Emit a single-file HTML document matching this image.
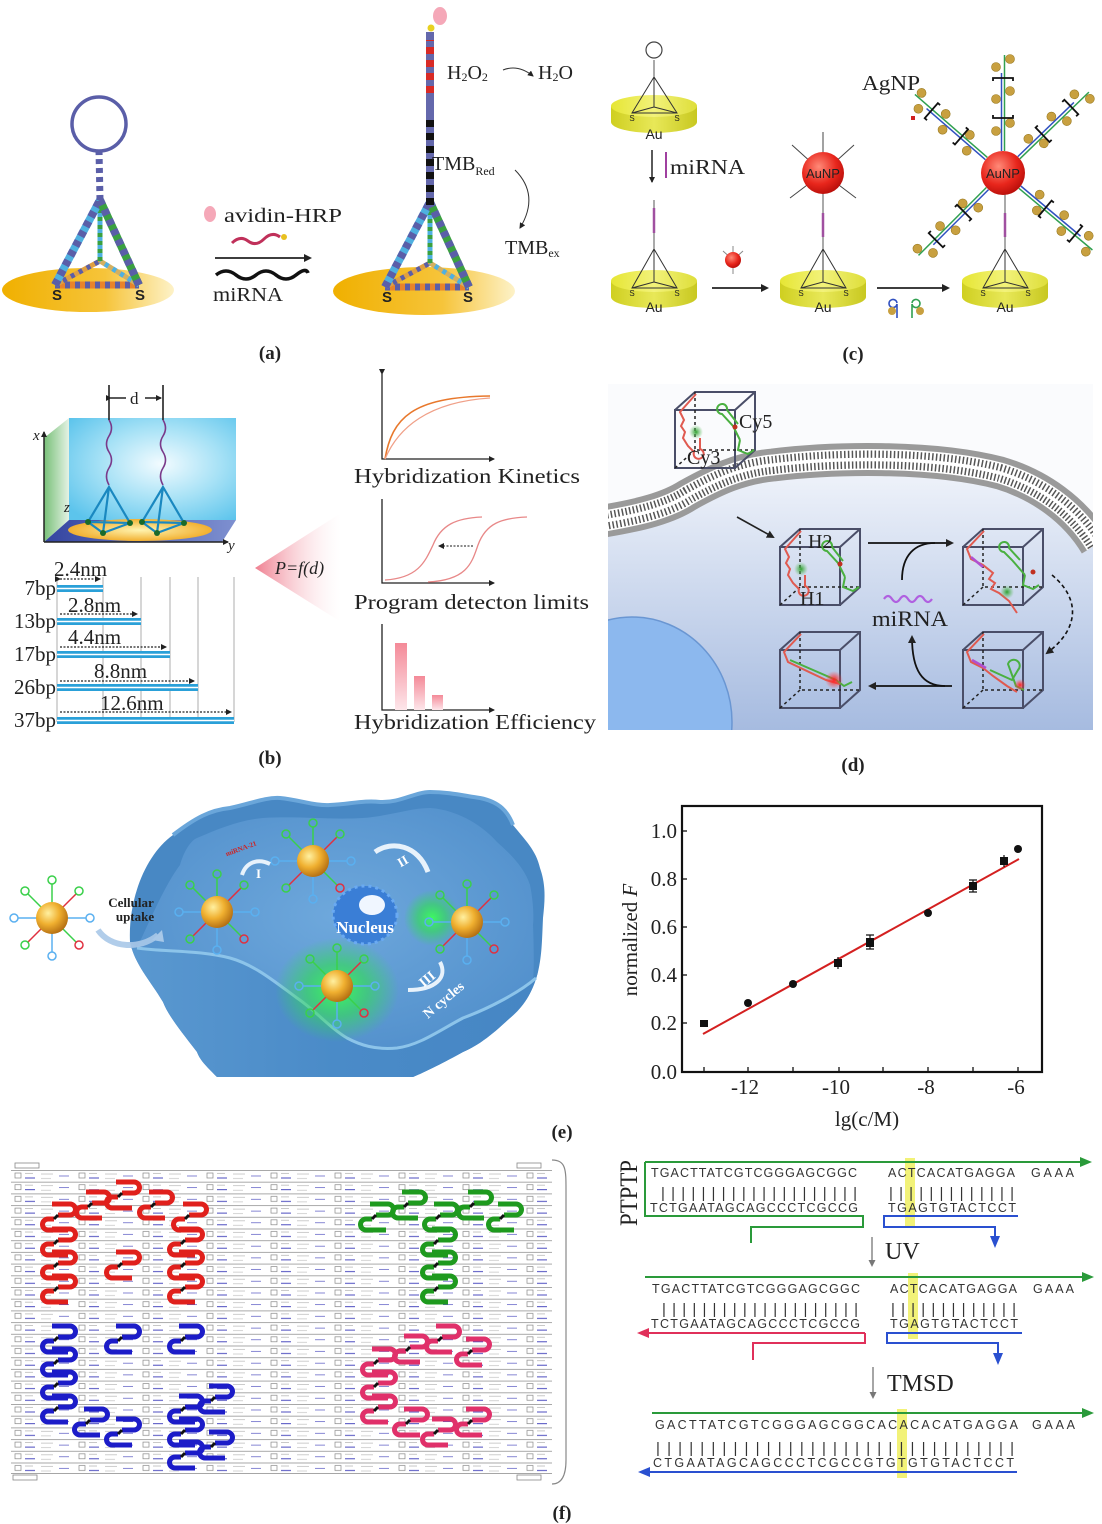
<!DOCTYPE html>
<html><head><meta charset="utf-8">
<style>
html,body{margin:0;padding:0;background:#fff;}
svg{display:block;}
text{font-family:"Liberation Serif",serif;fill:#222;}
.s{font-family:"Liberation Sans",sans-serif;}
.sq text{font-family:"Liberation Sans",sans-serif;fill:#333;}
</style></head><body>
<svg width="1102" height="1524" viewBox="0 0 1102 1524" xmlns="http://www.w3.org/2000/svg" xmlns:xlink="http://www.w3.org/1999/xlink">
<defs>
<linearGradient id="gold" x1="0" y1="0" x2="1" y2="0"><stop offset="0" stop-color="#f0b000"/><stop offset="0.6" stop-color="#f6c43a"/><stop offset="1" stop-color="#fdf2c8"/></linearGradient>
<linearGradient id="audisk" x1="0" y1="0" x2="1" y2="0"><stop offset="0" stop-color="#e6e634"/><stop offset="0.5" stop-color="#f2f27a"/><stop offset="1" stop-color="#dede3a"/></linearGradient>
<linearGradient id="auside" x1="0" y1="0" x2="1" y2="0"><stop offset="0" stop-color="#cfcf20"/><stop offset="0.5" stop-color="#e8e858"/><stop offset="1" stop-color="#c8c820"/></linearGradient>
<radialGradient id="aunp" cx="0.4" cy="0.35" r="0.7"><stop offset="0" stop-color="#ff8a78"/><stop offset="0.6" stop-color="#e8261c"/><stop offset="1" stop-color="#b40c08"/></radialGradient>
<radialGradient id="boxb" cx="0.55" cy="0.45" r="0.7"><stop offset="0" stop-color="#f2fbff"/><stop offset="0.5" stop-color="#a8e2f6"/><stop offset="1" stop-color="#5cc4ec"/></radialGradient>
<linearGradient id="wall" x1="0" y1="0" x2="1" y2="0"><stop offset="0" stop-color="#78c078"/><stop offset="1" stop-color="#e4f2e4"/></linearGradient>
<linearGradient id="floor" x1="0" y1="0" x2="1" y2="0"><stop offset="0" stop-color="#3444a0"/><stop offset="1" stop-color="#7e90d0"/></linearGradient>
<radialGradient id="ydisk" cx="0.5" cy="0.5" r="0.5"><stop offset="0" stop-color="#fff4b0"/><stop offset="1" stop-color="#f2b030"/></radialGradient>
<linearGradient id="tri" x1="0" y1="0" x2="1" y2="0"><stop offset="0" stop-color="#ef7f90"/><stop offset="1" stop-color="#ffffff" stop-opacity="0.2"/></linearGradient>
<linearGradient id="pbar" x1="0" y1="0" x2="0" y2="1"><stop offset="0" stop-color="#f48a98"/><stop offset="1" stop-color="#fde6ea"/></linearGradient>
<linearGradient id="cell" x1="0" y1="0" x2="0" y2="1"><stop offset="0" stop-color="#f2f5fb"/><stop offset="1" stop-color="#a6bbe0"/></linearGradient>
<radialGradient id="gnp" cx="0.38" cy="0.35" r="0.7"><stop offset="0" stop-color="#fff0a0"/><stop offset="0.5" stop-color="#f0b030"/><stop offset="1" stop-color="#b06a10"/></radialGradient>
<radialGradient id="glow" cx="0.5" cy="0.5" r="0.5"><stop offset="0" stop-color="#3cff5a" stop-opacity="0.95"/><stop offset="0.5" stop-color="#30e050" stop-opacity="0.6"/><stop offset="1" stop-color="#30e050" stop-opacity="0"/></radialGradient>
<radialGradient id="rglow" cx="0.5" cy="0.5" r="0.5"><stop offset="0" stop-color="#ff2020"/><stop offset="1" stop-color="#ff4040" stop-opacity="0"/></radialGradient>
<radialGradient id="gglow" cx="0.5" cy="0.5" r="0.5"><stop offset="0" stop-color="#30a030"/><stop offset="1" stop-color="#60c060" stop-opacity="0"/></radialGradient>
<radialGradient id="ecell" cx="0.5" cy="0.45" r="0.6"><stop offset="0" stop-color="#6ea8dc"/><stop offset="1" stop-color="#5290cc"/></radialGradient>
<linearGradient id="efront" x1="0" y1="0" x2="1" y2="0"><stop offset="0" stop-color="#5a98d0"/><stop offset="0.5" stop-color="#4a8bc8"/><stop offset="1" stop-color="#4686c4"/></linearGradient>
<marker id="ah" markerWidth="8" markerHeight="8" refX="6" refY="4" orient="auto" markerUnits="userSpaceOnUse"><path d="M0,0 L8,4 L0,8 z" fill="#222"/></marker>
<marker id="ahs" markerWidth="6" markerHeight="6" refX="5" refY="3" orient="auto" markerUnits="userSpaceOnUse"><path d="M0,0 L6,3 L0,6 z" fill="#222"/></marker>
<marker id="ahg" markerWidth="7" markerHeight="7" refX="5" refY="3.5" orient="auto" markerUnits="userSpaceOnUse"><path d="M0,0 L7,3.5 L0,7 z" fill="#777"/></marker>
<pattern id="gp" x="11" y="1170" width="64" height="11.7" patternUnits="userSpaceOnUse">
<line x1="0" y1="0.5" x2="64" y2="0.5" stroke="#8a8a8a" stroke-width="0.8"/>
<rect x="4" y="3" width="6" height="5" fill="#fff" stroke="#888" stroke-width="0.7"/>
<line x1="14" y1="8" x2="24" y2="8" stroke="#3838b8" stroke-width="0.9"/>
<line x1="14" y1="3.5" x2="22" y2="3.5" stroke="#b0b0b0" stroke-width="0.7"/>
<line x1="30" y1="4" x2="42" y2="4" stroke="#b8b8b8" stroke-width="0.7"/>
<line x1="30" y1="8.5" x2="40" y2="8.5" stroke="#c0c0c0" stroke-width="0.7"/>
<line x1="48" y1="6" x2="58" y2="6" stroke="#5050c0" stroke-width="0.7"/>
</pattern>
<g id="mot"><path d="M-8,-11 H10 A5.5,5.5 0 0 1 10,0 H-2" fill="none" stroke="currentColor" stroke-width="5"/><path d="M-6,4 H-12 A5.5,5.5 0 0 0 -12,15 H8" fill="none" stroke="currentColor" stroke-width="5"/><line x1="-2" y1="0" x2="-6" y2="4" stroke="#111" stroke-width="3"/></g>
<g id="np">
<g stroke-width="1.5" fill="none">
<line x1="0" y1="0" x2="0" y2="-34" stroke="#3ad04a"/><circle cx="0" cy="-38" r="4" stroke="#3ad04a"/>
<line x1="0" y1="0" x2="24" y2="-24" stroke="#e03040"/><circle cx="27" cy="-27" r="4" stroke="#3ad04a"/>
<line x1="0" y1="0" x2="34" y2="0" stroke="#5ab0f0"/><circle cx="38" cy="0" r="4" stroke="#5ab0f0"/>
<line x1="0" y1="0" x2="24" y2="24" stroke="#3ad04a"/><circle cx="27" cy="27" r="4" stroke="#e03040"/>
<line x1="0" y1="0" x2="0" y2="34" stroke="#5ab0f0"/><circle cx="0" cy="38" r="4" stroke="#5ab0f0"/>
<line x1="0" y1="0" x2="-24" y2="24" stroke="#e03040"/><circle cx="-27" cy="27" r="4" stroke="#3ad04a"/>
<line x1="0" y1="0" x2="-34" y2="0" stroke="#5ab0f0"/><circle cx="-38" cy="0" r="4" stroke="#5ab0f0"/>
<line x1="0" y1="0" x2="-24" y2="-24" stroke="#3ad04a"/><circle cx="-27" cy="-27" r="4" stroke="#3ad04a"/>
</g>
<circle cx="0" cy="0" r="16" fill="url(#gnp)"/>
</g>
<g id="cube">
<rect x="0" y="18" width="60" height="58" fill="none" stroke="#4a4e68" stroke-width="2"/>
<path d="M0,18 L20,0 H80 V58 L60,76 M60,18 L80,0" fill="none" stroke="#4a4e68" stroke-width="2"/>
<path d="M20,0 V58 H80 M20,58 L0,76" fill="none" stroke="#222" stroke-width="1.5" stroke-dasharray="3,3"/>
</g>
<g id="tet">
<line x1="0" y1="0" x2="84" y2="0" stroke="#e8842a" stroke-width="7"/>
<line x1="0" y1="0" x2="84" y2="0" stroke="#5a5ea8" stroke-width="7" stroke-dasharray="5,5"/>
<line x1="0" y1="0" x2="45" y2="-24" stroke="#e0a040" stroke-width="5"/>
<line x1="84" y1="0" x2="45" y2="-24" stroke="#d4b060" stroke-width="5"/>
<line x1="0" y1="0" x2="45" y2="-24" stroke="#5a5ea8" stroke-width="5" stroke-dasharray="4,5"/>
<line x1="84" y1="0" x2="45" y2="-24" stroke="#4fb0e0" stroke-width="5" stroke-dasharray="4,5"/>
<line x1="45" y1="-24" x2="45" y2="-85" stroke="#4fb0e0" stroke-width="5"/>
<line x1="45" y1="-24" x2="45" y2="-85" stroke="#3aa040" stroke-width="5" stroke-dasharray="4,4"/>
<line x1="0" y1="0" x2="45" y2="-85" stroke="#4fb0e0" stroke-width="8"/>
<line x1="0" y1="0" x2="45" y2="-85" stroke="#5a5ea8" stroke-width="8" stroke-dasharray="6,5"/>
<line x1="84" y1="0" x2="45" y2="-85" stroke="#3aa040" stroke-width="8"/>
<line x1="84" y1="0" x2="45" y2="-85" stroke="#5a5ea8" stroke-width="8" stroke-dasharray="6,5"/>
</g>
<g id="arm0">
<line x1="22" y1="-1.5" x2="100" y2="-1.5" stroke="#3050c0" stroke-width="1.5"/>
<line x1="22" y1="1.5" x2="118" y2="1.5" stroke="#30a050" stroke-width="1.5"/>
<g fill="#c8a040" stroke="#9a7a20" stroke-width="0.6"><circle cx="42" cy="-7" r="4.5"/><circle cx="50" cy="7" r="4.5"/><circle cx="74" cy="-7" r="4.5"/><circle cx="82" cy="7" r="4.5"/><circle cx="106" cy="-7" r="4.5"/><circle cx="114" cy="7" r="4.5"/></g>
<path d="M58,-10 h-3 v20 h3 M92,-10 h3 v20 h-3" fill="none" stroke="#111" stroke-width="1.8"/>
</g>
</defs>

<!-- ================= (a) ================= -->
<ellipse cx="88" cy="290" rx="86" ry="22" fill="url(#gold)"/>
<use xlink:href="#tet" x="55" y="285"/>
<text x="57" y="300" class="s" font-size="15" font-weight="bold" text-anchor="middle">S</text>
<text x="140" y="300" class="s" font-size="15" font-weight="bold" text-anchor="middle">S</text>
<line x1="100" y1="200" x2="99" y2="150" stroke="#5a5ea8" stroke-width="7" stroke-dasharray="5,4"/>
<circle cx="99" cy="124" r="27" fill="none" stroke="#5a5ea8" stroke-width="3.5"/>

<ellipse cx="424" cy="291" rx="91" ry="24" fill="url(#gold)"/>
<use xlink:href="#tet" x="385" y="287"/>
<text x="387" y="302" class="s" font-size="15" font-weight="bold" text-anchor="middle">S</text>
<text x="468" y="302" class="s" font-size="15" font-weight="bold" text-anchor="middle">S</text>
<line x1="430" y1="205" x2="430" y2="32" stroke="#6468ac" stroke-width="8"/>
<line x1="430" y1="205" x2="430" y2="120" stroke="#111" stroke-width="8" stroke-dasharray="7,6"/>
<line x1="430" y1="93" x2="430" y2="40" stroke="#d82a26" stroke-width="8" stroke-dasharray="7,6"/>
<circle cx="431" cy="28" r="3.5" fill="#e8d020"/>
<ellipse cx="440" cy="16" rx="7" ry="9" fill="#f5a8b8"/>
<text x="447" y="79" font-size="20">H<tspan font-size="12" dy="2">2</tspan><tspan dy="-2">O</tspan><tspan font-size="12" dy="2">2</tspan></text>
<path d="M503,70 Q518,64 533,76" fill="none" stroke="#333" stroke-width="1" marker-end="url(#ahs)"/>
<text x="538" y="79" font-size="20">H<tspan font-size="12" dy="2">2</tspan><tspan dy="-2">O</tspan></text>
<text x="432" y="170" font-size="20">TMB<tspan font-size="12" dy="5">Red</tspan></text>
<path d="M515,170 Q540,195 520,228" fill="none" stroke="#333" stroke-width="1" marker-end="url(#ahs)"/>
<text x="505" y="254" font-size="20">TMB<tspan font-size="12" dy="3">ex</tspan></text>

<ellipse cx="210" cy="214" rx="6" ry="8" fill="#f5a8b8"/>
<text x="224" y="222" font-size="20" textLength="118" lengthAdjust="spacingAndGlyphs">avidin-HRP</text>
<path d="M232,243 q8,-8 16,-2 t16,-2 t16,-2" fill="none" stroke="#c0305a" stroke-width="3"/>
<circle cx="284" cy="237" r="3" fill="#e8c020"/>
<line x1="215" y1="258" x2="310" y2="258" stroke="#222" stroke-width="1.8" marker-end="url(#ah)"/>
<path d="M216,275 q10,-8 20,0 t20,0 t20,0 t20,0 t12,-2" fill="none" stroke="#111" stroke-width="3.5"/>
<text x="213" y="301" font-size="20" textLength="70" lengthAdjust="spacingAndGlyphs">miRNA</text>
<text x="270" y="359" font-size="19" font-weight="bold" text-anchor="middle">(a)</text>

<!-- ================= (c) ================= -->
<g>
<path d="M611,106 V122 A43,11 0 0 0 697,122 V106 Z" fill="url(#auside)"/>
<ellipse cx="654" cy="106" rx="43" ry="11" fill="url(#audisk)"/>
<path d="M654,77 L632,113 L677,113 Z M654,77 L654,107 L632,113 M654,107 L677,113" fill="none" stroke="#333" stroke-width="1"/>
<line x1="654" y1="77" x2="654" y2="60" stroke="#555" stroke-width="1"/>
<circle cx="654" cy="50" r="8" fill="none" stroke="#444" stroke-width="1.2"/>
<text x="654" y="139" class="s" font-size="14" text-anchor="middle">Au</text>
<text x="632" y="121" class="s" font-size="8" text-anchor="middle">S</text>
<text x="677" y="121" class="s" font-size="8" text-anchor="middle">S</text>
</g>
<line x1="652" y1="150" x2="652" y2="182" stroke="#222" stroke-width="1.5" marker-end="url(#ahs)"/>
<line x1="666" y1="152" x2="666" y2="178" stroke="#a040a0" stroke-width="2"/>
<text x="670" y="174" font-size="21" textLength="75" lengthAdjust="spacingAndGlyphs">miRNA</text>

<g id="cdisk">
<path d="M611,281 V297 A43,11 0 0 0 697,297 V281 Z" fill="url(#auside)"/>
<ellipse cx="654" cy="281" rx="43" ry="11" fill="url(#audisk)"/>
<path d="M654,249 L632,288 L677,288 Z M654,249 L654,282 L632,288 M654,282 L677,288" fill="none" stroke="#333" stroke-width="1"/>
<text x="654" y="312" class="s" font-size="14" text-anchor="middle">Au</text>
<text x="632" y="296" class="s" font-size="8" text-anchor="middle">S</text>
<text x="677" y="296" class="s" font-size="8" text-anchor="middle">S</text>
</g>
<use xlink:href="#cdisk" x="169" y="0"/>
<use xlink:href="#cdisk" x="351" y="0"/>
<line x1="654" y1="249" x2="654" y2="200" stroke="#555" stroke-width="1"/>
<line x1="654" y1="208" x2="654" y2="233" stroke="#a050a0" stroke-width="2.5"/>
<line x1="823" y1="249" x2="823" y2="190" stroke="#555" stroke-width="1"/>
<line x1="823" y1="213" x2="823" y2="237" stroke="#a050a0" stroke-width="2.5"/>
<line x1="1005" y1="249" x2="1005" y2="190" stroke="#555" stroke-width="1"/>
<line x1="1005" y1="213" x2="1005" y2="237" stroke="#a050a0" stroke-width="2.5"/>
<g stroke="#444" stroke-width="1"><line x1="823" y1="173" x2="823" y2="132"/><line x1="823" y1="173" x2="792" y2="145"/><line x1="823" y1="173" x2="854" y2="145"/><line x1="823" y1="173" x2="790" y2="198"/><line x1="823" y1="173" x2="856" y2="198"/></g>
<circle cx="823" cy="173" r="21" fill="url(#aunp)"/>
<text x="823" y="178" class="s" font-size="13" text-anchor="middle" fill="#222">AuNP</text>
<g stroke="#888" stroke-width="1"><line x1="733" y1="260" x2="733" y2="246"/><line x1="733" y1="260" x2="723" y2="251"/><line x1="733" y1="260" x2="743" y2="251"/><line x1="733" y1="260" x2="733" y2="274"/></g>
<circle cx="733" cy="260" r="8" fill="url(#aunp)"/>
<line x1="712" y1="288" x2="767" y2="288" stroke="#222" stroke-width="1.8" marker-end="url(#ah)"/>
<line x1="877" y1="288" x2="948" y2="288" stroke="#222" stroke-width="1.8" marker-end="url(#ah)"/>
<path d="M897,318 V304 a4,4 0 1 1 0,-1" fill="none" stroke="#3050c0" stroke-width="1.6"/>
<circle cx="892" cy="311" r="4" fill="#c8a040"/>
<path d="M912,318 V304 a4,4 0 1 0 0,-1" fill="none" stroke="#30a050" stroke-width="1.6"/>
<circle cx="920" cy="311" r="4" fill="#c8a040"/>
<text x="862" y="90" font-size="21" textLength="58" lengthAdjust="spacingAndGlyphs">AgNP</text>
<rect x="911" y="116" width="4" height="4" fill="#d02020"/>
<g transform="translate(1003,173) rotate(-90)"><use xlink:href="#arm0"/></g>
<g transform="translate(1003,173) rotate(-139)"><use xlink:href="#arm0"/></g>
<g transform="translate(1003,173) rotate(-44)"><use xlink:href="#arm0"/></g>
<g transform="translate(1003,173) rotate(135)"><use xlink:href="#arm0"/></g>
<g transform="translate(1003,173) rotate(40)"><use xlink:href="#arm0"/></g>
<circle cx="1003" cy="173" r="22" fill="url(#aunp)"/>
<text x="1003" y="178" class="s" font-size="13" text-anchor="middle" fill="#222">AuNP</text>
<text x="853" y="360" font-size="19" font-weight="bold" text-anchor="middle">(c)</text>

<!-- ================= (b) ================= -->
<rect x="69" y="418" width="167" height="102" fill="url(#boxb)"/>
<polygon points="44,438 69,418 69,520 44,542" fill="url(#wall)"/>
<polygon points="44,542 69,520 236,520 222,542" fill="url(#floor)"/>
<ellipse cx="140" cy="530" rx="72" ry="11" fill="url(#ydisk)"/>
<line x1="44" y1="542" x2="44" y2="432" stroke="#222" stroke-width="1.5" marker-end="url(#ahs)"/>
<line x1="44" y1="542" x2="228" y2="542" stroke="#222" stroke-width="1.5" marker-end="url(#ahs)"/>
<text x="33" y="440" font-size="15" font-style="italic">x</text>
<text x="64" y="512" font-size="15" font-style="italic">z</text>
<text x="228" y="550" font-size="15" font-style="italic">y</text>
<line x1="109" y1="385" x2="109" y2="420" stroke="#222" stroke-width="1.6"/>
<line x1="163" y1="385" x2="163" y2="420" stroke="#222" stroke-width="1.6"/>
<path d="M109,420 q5,8 0,16 t0,16 t0,16 t0,17" fill="none" stroke="#7a3a8a" stroke-width="1.6"/>
<path d="M163,420 q5,8 0,16 t0,16 t0,16 t0,17" fill="none" stroke="#7a3a8a" stroke-width="1.6"/>
<line x1="111" y1="398" x2="126" y2="398" stroke="#222" stroke-width="1.5" marker-start="url(#ahs)"/>
<line x1="145" y1="398" x2="161" y2="398" stroke="#222" stroke-width="1.5" marker-end="url(#ahs)"/>
<text x="130" y="404" font-size="17">d</text>
<g fill="none" stroke="#1a88c0" stroke-width="2.2">
<path d="M109,487 L88,522 L130,523 Z M109,487 L103,533 L88,522 M103,533 L130,523"/>
<path d="M163,487 L142,522 L184,523 Z M163,487 L157,533 L142,522 M157,533 L184,523"/>
</g>
<g fill="#1a6a2a"><circle cx="88" cy="522" r="3"/><circle cx="130" cy="523" r="3"/><circle cx="103" cy="533" r="3"/><circle cx="142" cy="522" r="3"/><circle cx="184" cy="523" r="3"/><circle cx="157" cy="533" r="3"/></g>

<g stroke="#999" stroke-width="0.8"><line x1="57" y1="577" x2="57" y2="722"/><line x1="103" y1="577" x2="103" y2="722"/><line x1="141" y1="577" x2="141" y2="722"/><line x1="170" y1="577" x2="170" y2="722"/><line x1="198" y1="577" x2="198" y2="722"/><line x1="234" y1="577" x2="234" y2="722"/></g>
<g fill="#2aa0d8">
<rect x="57" y="585" width="46" height="7"/><rect x="57" y="618" width="84" height="7"/><rect x="57" y="651" width="113" height="7"/><rect x="57" y="684" width="141" height="7"/><rect x="57" y="717" width="177" height="7"/>
</g>
<g stroke="#fff" stroke-width="1.5"><line x1="57" y1="588.5" x2="103" y2="588.5"/><line x1="57" y1="621.5" x2="141" y2="621.5"/><line x1="57" y1="654.5" x2="170" y2="654.5"/><line x1="57" y1="687.5" x2="198" y2="687.5"/><line x1="57" y1="720.5" x2="234" y2="720.5"/></g>
<g stroke="#222" stroke-width="1.3" stroke-dasharray="2,1.5">
<line x1="60" y1="579" x2="100" y2="579" marker-end="url(#ahs)" marker-start="url(#ahs)"/>
<line x1="60" y1="614" x2="137" y2="614" marker-end="url(#ahs)"/>
<line x1="60" y1="647" x2="166" y2="647" marker-end="url(#ahs)"/>
<line x1="60" y1="681" x2="194" y2="681" marker-end="url(#ahs)"/>
<line x1="60" y1="712" x2="231" y2="712" marker-end="url(#ahs)"/>
</g>
<g font-size="21">
<text x="54" y="576">2.4nm</text><text x="68" y="612">2.8nm</text><text x="68" y="644">4.4nm</text><text x="94" y="678">8.8nm</text><text x="100" y="710">12.6nm</text>
</g>
<g font-size="21" text-anchor="end">
<text x="56" y="595">7bp</text><text x="56" y="628">13bp</text><text x="56" y="661">17bp</text><text x="56" y="694">26bp</text><text x="56" y="727">37bp</text>
</g>
<polygon points="255,568 341,513 341,622" fill="url(#tri)"/>
<text x="275" y="574" font-size="18" font-style="italic">P=f(d)</text>

<g stroke="#222" stroke-width="1.3" fill="none">
<path d="M382,374 V459 H494" marker-start="url(#ahs)" marker-end="url(#ahs)"/>
<path d="M382,499 V583 H494" marker-end="url(#ahs)"/>
<path d="M382,624 V710 H494" marker-end="url(#ahs)"/>
</g>
<path d="M385,459 C392,418 412,397 490,396" fill="none" stroke="#e8782c" stroke-width="1.6"/>
<path d="M385,459 C398,428 428,402 490,398" fill="none" stroke="#f0a088" stroke-width="1.3"/>
<path d="M385,580 C418,578 425,562 433,545 C441,525 456,518 482,517" fill="none" stroke="#e88888" stroke-width="1.3"/>
<path d="M428,582 C468,580 472,562 478,545 C486,523 502,518 527,517" fill="none" stroke="#e88888" stroke-width="1.3"/>
<line x1="473" y1="546" x2="439" y2="546" stroke="#444" stroke-width="1.2" stroke-dasharray="2,1.5" marker-end="url(#ahs)"/>
<rect x="395" y="643" width="12" height="67" fill="url(#pbar)"/>
<rect x="414" y="676" width="11" height="34" fill="url(#pbar)"/>
<rect x="432" y="695" width="11" height="15" fill="url(#pbar)"/>
<text x="354" y="483" font-size="21" textLength="226" lengthAdjust="spacingAndGlyphs">Hybridization Kinetics</text>
<text x="354" y="609" font-size="21" textLength="235" lengthAdjust="spacingAndGlyphs">Program detecton limits</text>
<text x="354" y="729" font-size="21" textLength="242" lengthAdjust="spacingAndGlyphs">Hybridization Efficiency</text>
<text x="270" y="764" font-size="19" font-weight="bold" text-anchor="middle">(b)</text>

<!-- ================= (d) ================= -->
<rect x="608" y="384" width="485" height="346" fill="#fafbfd"/>
<path d="M608,520 C640,515 668,508 688,495 C715,480 740,468 773,465 C830,458 930,455 1000,473 C1040,485 1075,510 1093,540 L1093,730 L608,730 Z" fill="url(#cell)"/>
<clipPath id="dclip"><rect x="608" y="384" width="485" height="346"/></clipPath>
<g clip-path="url(#dclip)">
<ellipse cx="632" cy="722" rx="100" ry="105" fill="#8cb8ee" stroke="#6a96d2" stroke-width="1.5"/>
<g fill="none">
<path d="M604,521 C640,515 668,508 688,495 C715,480 740,468 773,465 C830,458 930,455 1000,473 C1040,485 1075,510 1096,545" stroke="#9a9a9a" stroke-width="33"/>
<path d="M604,521 C640,515 668,508 688,495 C715,480 740,468 773,465 C830,458 930,455 1000,473 C1040,485 1075,510 1096,545" stroke="#fff" stroke-width="21"/>
<path d="M604,521 C640,515 668,508 688,495 C715,480 740,468 773,465 C830,458 930,455 1000,473 C1040,485 1075,510 1096,545" stroke="#555" stroke-width="18" stroke-dasharray="1.5,2.3"/>
<path d="M604,521 C640,515 668,508 688,495 C715,480 740,468 773,465 C830,458 930,455 1000,473 C1040,485 1075,510 1096,545" stroke="#fff" stroke-width="3.5"/>
</g>
</g>
<g id="cubeA">
<use xlink:href="#cube" x="675" y="392"/>
<path d="M696,394 L680,412 L684,420 l-3,6 l4,6 l-2,6 l5,8 l6,6 a5,5 0 1 0 6,-3 L700,438" fill="none" stroke="#e05a50" stroke-width="2"/>
<circle cx="696" cy="432" r="7" fill="url(#gglow)"/>
<path d="M740,440 L733,426 L722,414 a5,5 0 1 1 5,-4 L738,424" fill="none" stroke="#4ab040" stroke-width="2"/>
<path d="M740,440 l-2,10 l10,4 l6,-4" fill="none" stroke="#4ab040" stroke-width="2"/>
<circle cx="735" cy="427" r="2.5" fill="#c03020"/>
</g>
<text x="739" y="428" font-size="20">Cy5</text>
<text x="687" y="464" font-size="20">Cy3</text>
<line x1="737" y1="517" x2="773" y2="537" stroke="#222" stroke-width="1.6" marker-end="url(#ah)"/>
<use xlink:href="#cubeA" x="105" y="137"/>
<text x="808" y="548" font-size="20">H2</text>
<text x="800" y="605" font-size="20">H1</text>
<use xlink:href="#cube" x="963" y="529"/>
<path d="M984,531 L967,549 l4,10 l12,6 l10,8 l-4,6 l6,4 l-4,6 l8,4 l10,8 l8,12" fill="none" stroke="#e05a50" stroke-width="2"/>
<path d="M971,557 l12,10" stroke="#b050d0" stroke-width="2.5"/>
<circle cx="1007" cy="592" r="7" fill="url(#gglow)"/>
<path d="M1025,575 L1012,560 L1004,552 a5,5 0 1 1 5,-4 L1020,560" fill="none" stroke="#4ab040" stroke-width="2"/>
<path d="M1025,575 l-2,10 l10,4 l6,-4" fill="none" stroke="#4ab040" stroke-width="2"/>
<circle cx="1033" cy="572" r="2.5" fill="#c03020"/>
<use xlink:href="#cube" x="780" y="632"/>
<path d="M801,634 L784,652 l4,10 L826,680 L840,684" fill="none" stroke="#e05a50" stroke-width="2"/>
<path d="M790,660 L836,680 l8,6 l8,-4" fill="none" stroke="#4ab040" stroke-width="2"/>
<circle cx="834" cy="680" r="9" fill="url(#rglow)"/>
<use xlink:href="#cube" x="963" y="632"/>
<path d="M984,634 L967,652 l4,10 l12,6 l10,8 l14,10 l10,6" fill="none" stroke="#e05a50" stroke-width="2"/>
<path d="M972,660 l14,8" stroke="#b050d0" stroke-width="2.5"/>
<path d="M990,670 L1012,680 l6,-10 a6,6 0 1 0 -10,-6 L1016,686 l8,4" fill="none" stroke="#4ab040" stroke-width="2"/>
<circle cx="1020" cy="685" r="6" fill="url(#rglow)"/>
<line x1="868" y1="543" x2="952" y2="543" stroke="#111" stroke-width="1.8" marker-end="url(#ah)"/>
<path d="M902,580 C902,555 915,543 935,543" fill="none" stroke="#111" stroke-width="1.8"/>
<line x1="952" y1="686" x2="870" y2="686" stroke="#111" stroke-width="1.8" marker-end="url(#ah)"/>
<path d="M945,686 C922,686 912,670 912,637" fill="none" stroke="#111" stroke-width="1.8" marker-end="url(#ah)"/>
<path d="M1052,575 C1082,600 1078,630 1047,653" fill="none" stroke="#111" stroke-width="1.6" stroke-dasharray="4,3" marker-end="url(#ah)"/>
<path d="M884,599 q4,-6 8,0 t8,0 t8,0 t8,0 t8,0 t8,0" fill="none" stroke="#b060e0" stroke-width="2.2"/>
<text x="872" y="626" font-size="22" textLength="76" lengthAdjust="spacingAndGlyphs">miRNA</text>
<text x="853" y="771" font-size="19" font-weight="bold" text-anchor="middle">(d)</text>

<!-- ================= (e) ================= -->
<path d="M130,942 C128,900 145,855 173,835 C195,818 210,810 230,808 C250,804 265,797 280,798 C300,800 315,806 330,805 C350,804 365,800 380,802 C400,803 415,792 430,792 C450,792 465,796 480,798 C500,802 508,812 513,825 C525,840 536,850 540,868 C546,885 545,900 543,918 C542,940 542,955 538,972 C532,995 522,1008 510,1018 C495,1032 480,1045 463,1052 C445,1062 425,1072 413,1077 L217,1077 C205,1065 200,1060 197,1052 C180,1030 168,1015 163,1002 C150,980 135,965 130,942 Z" fill="#4888c4"/>
<path d="M180,865 C185,848 192,840 197,838 C220,828 240,820 263,818 C300,816 330,820 363,818 C390,816 410,808 430,808 C460,810 485,828 497,842 C515,858 525,870 530,885 C533,900 534,915 533,925 C534,950 534,970 533,982 C520,992 490,1008 463,1018 C440,1030 420,1045 397,1048 C375,1050 360,1045 347,1038 C330,1028 315,1010 297,998 C275,982 255,965 230,958 C200,950 165,952 137,948 C150,920 165,885 180,865 Z" fill="url(#ecell)"/>
<path d="M173,835 C195,818 210,810 230,808 C250,804 265,797 280,798 C300,800 315,806 330,805 C350,804 365,800 380,802 C400,803 415,792 430,792 C450,792 465,796 480,798 C500,802 508,812 513,825" fill="none" stroke="#6aa6da" stroke-width="4"/>
<path d="M137,948 C165,952 200,950 230,958 C255,965 275,982 297,998 C315,1010 330,1028 347,1038 C360,1045 375,1050 397,1048 C420,1045 440,1030 463,1018 C490,1008 520,992 533,982 L538,972 C532,995 522,1008 510,1018 C495,1032 480,1045 463,1052 C445,1062 425,1072 413,1077 L217,1077 C205,1065 200,1060 197,1052 C180,1030 168,1015 163,1002 C150,980 135,965 130,942 Z" fill="url(#efront)"/>
<path d="M137,948 C165,952 200,950 230,958 C255,965 275,982 297,998 C315,1010 330,1028 347,1038 C360,1045 375,1050 397,1048 C420,1045 440,1030 463,1018 C490,1008 520,992 536,978" fill="none" stroke="#8cc4ea" stroke-width="3"/>
<ellipse cx="337" cy="990" rx="62" ry="52" fill="url(#glow)"/>
<circle cx="432" cy="918" r="28" fill="url(#glow)"/>
<ellipse cx="365" cy="915" rx="32" ry="29" fill="#3a7ed6"/>
<ellipse cx="365" cy="915" rx="32" ry="29" fill="none" stroke="#6aaaf2" stroke-width="3" stroke-dasharray="3,4"/>
<ellipse cx="372" cy="905" rx="13" ry="10" fill="#f0f6ff"/>
<text x="365" y="933" font-size="17" font-weight="bold" text-anchor="middle" style="fill:#fff">Nucleus</text>
<use xlink:href="#np" x="52" y="918"/>
<use xlink:href="#np" x="217" y="912"/>
<use xlink:href="#np" x="313" y="861"/>
<use xlink:href="#np" x="467" y="922"/>
<use xlink:href="#np" x="337" y="986"/>
<path d="M98,930 C110,948 140,950 158,935" fill="none" stroke="#a8c8e8" stroke-width="6" opacity="0.9"/>
<path d="M152,940 l10,-10 l2,12 z" fill="#a8c8e8"/>
<text x="131" y="907" font-size="13" font-weight="bold" text-anchor="middle">Cellular</text>
<text x="135" y="921" font-size="13" font-weight="bold" text-anchor="middle">uptake</text>
<path d="M242,875 C246,862 258,858 270,864" fill="none" stroke="#e8f2fb" stroke-width="4"/>
<path d="M375,852 C392,840 418,845 428,872" fill="none" stroke="#e8f2fb" stroke-width="5"/>
<path d="M440,962 C448,977 436,990 408,990" fill="none" stroke="#e8f2fb" stroke-width="4"/>
<text x="256" y="878" font-size="13" font-weight="bold" style="fill:#fff">I</text>
<text x="398" y="866" font-size="13" font-weight="bold" style="fill:#fff" transform="rotate(-30 402 862)">II</text>
<text x="418" y="984" font-size="14" font-weight="bold" style="fill:#fff" transform="rotate(-40 426 978)">III</text>
<text x="418" y="1008" font-size="14" font-weight="bold" style="fill:#fff" transform="rotate(-40 438 1000)">N cycles</text>
<text x="225" y="853" font-size="7" font-weight="bold" style="fill:#d02020" transform="rotate(-20 235 850)">miRNA-21</text>
<text x="562" y="1138" font-size="19" font-weight="bold" text-anchor="middle">(e)</text>

<!-- ============ chart ============ -->
<rect x="682" y="806" width="360" height="266" fill="none" stroke="#111" stroke-width="2.2"/>
<g stroke="#111" stroke-width="1.3">
<line x1="682" y1="831" x2="687" y2="831"/><line x1="682" y1="879" x2="687" y2="879"/><line x1="682" y1="927" x2="687" y2="927"/><line x1="682" y1="975" x2="687" y2="975"/><line x1="682" y1="1023" x2="687" y2="1023"/>
<line x1="704" y1="1072" x2="704" y2="1067"/><line x1="748" y1="1072" x2="748" y2="1067"/><line x1="793" y1="1072" x2="793" y2="1067"/><line x1="839" y1="1072" x2="839" y2="1067"/><line x1="883" y1="1072" x2="883" y2="1067"/><line x1="928" y1="1072" x2="928" y2="1067"/><line x1="973" y1="1072" x2="973" y2="1067"/><line x1="1018" y1="1072" x2="1018" y2="1067"/>
</g>
<g font-size="21" text-anchor="end">
<text x="677" y="838">1.0</text><text x="677" y="886">0.8</text><text x="677" y="934">0.6</text><text x="677" y="982">0.4</text><text x="677" y="1030">0.2</text><text x="677" y="1079">0.0</text>
</g>
<g font-size="21" text-anchor="middle">
<text x="745" y="1094">-12</text><text x="836" y="1094">-10</text><text x="926" y="1094">-8</text><text x="1016" y="1094">-6</text>
</g>
<text x="867" y="1126" font-size="21" text-anchor="middle">lg(c/M)</text>
<text transform="translate(637,940) rotate(-90)" font-size="21" text-anchor="middle">normalized <tspan font-style="italic">F</tspan></text>
<line x1="703" y1="1034" x2="1019" y2="859" stroke="#d42020" stroke-width="2"/>
<g fill="#111">
<rect x="700" y="1020" width="8" height="7"/><circle cx="748" cy="1003" r="4"/><circle cx="793" cy="984" r="4"/><rect x="834" y="959" width="8" height="8"/><rect x="866" y="938" width="8" height="9"/><circle cx="928" cy="913" r="4"/><rect x="969" y="882" width="8" height="8"/><rect x="1000" y="857" width="8" height="8"/><circle cx="1018" cy="849" r="4"/>
</g>
<g stroke="#111" stroke-width="1.2"><path d="M870,935 v14 M866,935 h8 M866,949 h8 M973,880 v12 M969,880 h8 M969,892 h8 M1004,855 v12 M838,957 v12"/></g>

<!-- ================= (f) left ================= -->
<rect x="11" y="1170" width="541" height="304" fill="url(#gp)"/>
<line x1="11" y1="1473.5" x2="552" y2="1473.5" stroke="#888" stroke-width="0.8"/>
<path d="M552,1160 C566,1160 566,1170 566,1190 V1460 C566,1478 560,1484 552,1484" fill="none" stroke="#888" stroke-width="1.2"/>
<g fill="none" stroke="#888" stroke-width="0.8"><rect x="15" y="1163" width="24" height="5"/><rect x="517" y="1163" width="24" height="5"/><rect x="13" y="1475" width="24" height="5"/><rect x="517" y="1475" width="24" height="5"/></g>
<g style="color:#e0201c">
<use xlink:href="#mot" x="124" y="1193"/><use xlink:href="#mot" x="157" y="1203"/><use xlink:href="#mot" x="94" y="1203"/><use xlink:href="#mot" x="60" y="1215"/><use xlink:href="#mot" x="191" y="1215"/><use xlink:href="#mot" x="60" y="1240"/><use xlink:href="#mot" x="187" y="1240"/><use xlink:href="#mot" x="60" y="1263"/><use xlink:href="#mot" x="124" y="1263"/><use xlink:href="#mot" x="187" y="1263"/><use xlink:href="#mot" x="60" y="1287"/><use xlink:href="#mot" x="187" y="1287"/>
</g>
<g style="color:#1e9a1e">
<use xlink:href="#mot" x="410" y="1203"/><use xlink:href="#mot" x="476" y="1203"/><use xlink:href="#mot" x="378" y="1215"/><use xlink:href="#mot" x="442" y="1215"/><use xlink:href="#mot" x="506" y="1215"/><use xlink:href="#mot" x="440" y="1240"/><use xlink:href="#mot" x="440" y="1263"/><use xlink:href="#mot" x="440" y="1287"/>
</g>
<g style="color:#1c1cc8">
<use xlink:href="#mot" x="60" y="1337"/><use xlink:href="#mot" x="124" y="1337"/><use xlink:href="#mot" x="187" y="1337"/><use xlink:href="#mot" x="60" y="1360"/><use xlink:href="#mot" x="60" y="1383"/><use xlink:href="#mot" x="60" y="1407"/><use xlink:href="#mot" x="187" y="1407"/><use xlink:href="#mot" x="217" y="1397"/><use xlink:href="#mot" x="92" y="1420"/><use xlink:href="#mot" x="124" y="1430"/><use xlink:href="#mot" x="187" y="1430"/><use xlink:href="#mot" x="217" y="1443"/><use xlink:href="#mot" x="187" y="1453"/>
</g>
<g style="color:#e0306a">
<use xlink:href="#mot" x="444" y="1337"/><use xlink:href="#mot" x="412" y="1347"/><use xlink:href="#mot" x="474" y="1350"/><use xlink:href="#mot" x="380" y="1360"/><use xlink:href="#mot" x="380" y="1383"/><use xlink:href="#mot" x="380" y="1407"/><use xlink:href="#mot" x="412" y="1420"/><use xlink:href="#mot" x="474" y="1420"/><use xlink:href="#mot" x="440" y="1430"/>
</g>
<text x="562" y="1519" font-size="19" font-weight="bold" text-anchor="middle">(f)</text>

<!-- ================= (f) right ================= -->
<g fill="#f0f060" opacity="0.85"><rect x="905" y="1158" width="10" height="68"/><rect x="908" y="1273" width="10" height="66"/><rect x="897" y="1409" width="10" height="69"/></g>
<text transform="translate(637,1193) rotate(-90)" font-size="25" text-anchor="middle" textLength="66" lengthAdjust="spacingAndGlyphs">PTPTP</text>
<g fill="none" stroke-width="2">
<path d="M645,1162 H1084" stroke="#2a9a3a"/><path d="M645,1162 V1216 H863 V1227 H751 V1243" stroke="#2a9a3a"/>
<path d="M1018,1216 H884 V1227 H995 V1238" stroke="#2a50d0"/>
<path d="M645,1277 H1086" stroke="#2a9a3a"/>
<path d="M865,1333 H645" stroke="#e0305a"/><path d="M865,1333 V1343 H753 V1360" stroke="#e0305a"/>
<path d="M1022,1333 H887 V1343 H998 V1355" stroke="#2a50d0"/>
<path d="M652,1413 H1086" stroke="#2a9a3a"/>
<path d="M1017,1472 H646" stroke="#2a50d0"/>
</g>
<path d="M1080,1157 L1092,1162 L1080,1167 Z" fill="#2a9a3a"/>
<path d="M1082,1272 L1094,1277 L1082,1282 Z" fill="#2a9a3a"/>
<path d="M1082,1408 L1094,1413 L1082,1418 Z" fill="#2a9a3a"/>
<path d="M649,1328 L637,1333 L649,1338 Z" fill="#e0305a"/>
<path d="M650,1467 L638,1472 L650,1477 Z" fill="#2a50d0"/>
<path d="M990,1236 L995,1248 L1000,1236 Z" fill="#2a50d0"/>
<path d="M993,1353 L998,1365 L1003,1353 Z" fill="#2a50d0"/>
<g class="sq" font-size="12.5">
<text x="651" y="1177" textLength="206" lengthAdjust="spacing">TGACTTATCGTCGGGAGCGGC</text>
<text x="888" y="1177" textLength="127" lengthAdjust="spacing">ACTCACATGAGGA</text>
<text x="1031" y="1177" textLength="43" lengthAdjust="spacing">GAAA</text>
<text x="650" y="1212" textLength="208" lengthAdjust="spacing">TCTGAATAGCAGCCCTCGCCG</text>
<text x="888" y="1212" textLength="128" lengthAdjust="spacing">TGAGTGTACTCCT</text>
<text x="652" y="1293" textLength="208" lengthAdjust="spacing">TGACTTATCGTCGGGAGCGGC</text>
<text x="890" y="1293" textLength="127" lengthAdjust="spacing">ACTCACATGAGGA</text>
<text x="1033" y="1293" textLength="41" lengthAdjust="spacing">GAAA</text>
<text x="651" y="1328" textLength="209" lengthAdjust="spacing">TCTGAATAGCAGCCCTCGCCG</text>
<text x="890" y="1328" textLength="128" lengthAdjust="spacing">TGAGTGTACTCCT</text>
<text x="655" y="1429" textLength="363" lengthAdjust="spacing">GACTTATCGTCGGGAGCGGCACACACATGAGGA</text>
<text x="1032" y="1429" textLength="43" lengthAdjust="spacing">GAAA</text>
<text x="653" y="1467" textLength="361" lengthAdjust="spacing">CTGAATAGCAGCCCTCGCCGTGTGTGTACTCCT</text>
</g>
<g class="sq" font-size="15">
<text x="661" y="1198" textLength="196" lengthAdjust="spacing">||||||||||||||||||||</text>
<text x="889" y="1198" textLength="125" lengthAdjust="spacing">|||||||||||||</text>
<text x="662" y="1314" textLength="196" lengthAdjust="spacing">||||||||||||||||||||</text>
<text x="891" y="1314" textLength="125" lengthAdjust="spacing">|||||||||||||</text>
<text x="656" y="1453" textLength="358" lengthAdjust="spacing">|||||||||||||||||||||||||||||||||</text>
</g>
<line x1="872" y1="1237" x2="872" y2="1265" stroke="#777" stroke-width="1.3" marker-end="url(#ahg)"/>
<text x="885" y="1259" font-size="24">UV</text>
<line x1="873" y1="1367" x2="873" y2="1397" stroke="#777" stroke-width="1.3" marker-end="url(#ahg)"/>
<text x="887" y="1391" font-size="24">TMSD</text>
</svg>
</body></html>
